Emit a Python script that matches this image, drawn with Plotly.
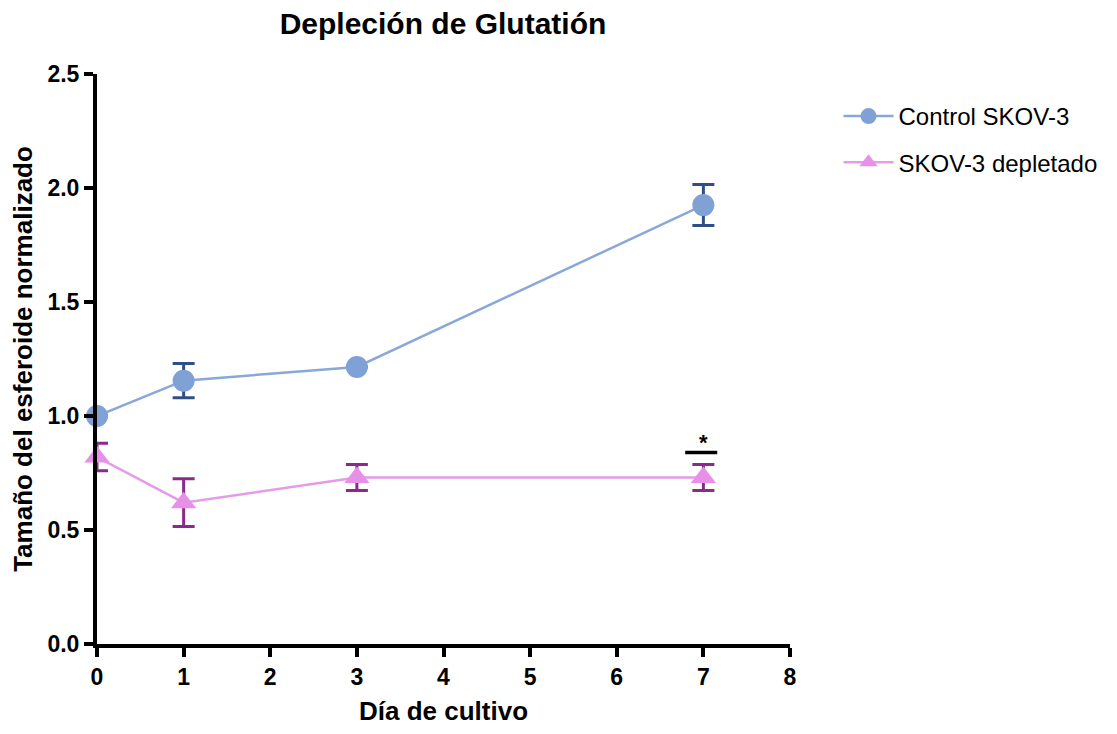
import plotly.graph_objects as go

days = [0, 1, 3, 7]
control_mean = [1.00, 1.155, 1.215, 1.925]
control_err = [0.0, 0.075, 0.0, 0.09]
depl_mean = [0.82, 0.62, 0.73, 0.73]
depl_err = [0.06, 0.105, 0.057, 0.057]
series_names = ["Control SKOV-3", "SKOV-3 depletado"]

x_ticks = list(range(0, 9))
y_ticks = [0.0, 0.5, 1.0, 1.5, 2.0, 2.5]

font = "Liberation Sans, Arial"

fig = go.Figure()
fig.add_trace(go.Scatter(
    x=days, y=control_mean, name=series_names[0], mode="lines+markers",
    legendgroup="a",
    line=dict(color="#89A8D8", width=2.5),
    marker=dict(symbol="circle", size=22, color="#7FA1D6"),
    error_y=dict(type="data", array=control_err, visible=True,
                 color="#2F4F86", thickness=3, width=11),
    cliponaxis=False,
))
fig.add_trace(go.Scatter(
    x=days, y=depl_mean, name=series_names[1], mode="lines+markers",
    legendgroup="b",
    line=dict(color="#E59BE8", width=2.5),
    marker=dict(symbol="triangle-up", size=22, color="#E790E8"),
    error_y=dict(type="data", array=depl_err, visible=True,
                 color="#8A2B8A", thickness=3, width=11),
    cliponaxis=False,
))

# significance marker
fig.add_shape(type="line", x0=6.79, x1=7.16, y0=0.84, y1=0.84,
              line=dict(color="black", width=3.5), xref="x", yref="y")
fig.add_annotation(x=7, y=0.885, text="<b>*</b>", showarrow=False,
                   font=dict(size=22, color="black", family=font), xref="x", yref="y")

fig.update_layout(
    width=1117, height=734,
    margin=dict(l=97, r=327, t=74, b=86),
    paper_bgcolor="white", plot_bgcolor="white",
    title=dict(text="<b>Depleción de Glutatión</b>", x=443/1117, xanchor="center",
               y=1 - 23/734, yanchor="middle",
               font=dict(size=30, color="black", family=font)),
    showlegend=True,
    legend=dict(x=1.07, y=0.965, xanchor="left", yanchor="top",
                font=dict(size=24, color="black", family=font),
                itemsizing="trace", itemwidth=50, tracegroupgap=12,
                bgcolor="rgba(0,0,0,0)"),
)
fig.update_xaxes(
    range=[0, 8], tickvals=x_ticks, ticktext=["<b>%d</b>" % t for t in x_ticks],
    showline=True, linecolor="black", linewidth=4, ticks="outside",
    tickwidth=4, ticklen=9, tickcolor="black", showgrid=False, zeroline=False,
    tickfont=dict(size=23, family=font, color="black"),
    title=dict(text="<b>Día de cultivo</b>", font=dict(size=26, family=font, color="black"),
               standoff=14),
)
fig.update_yaxes(
    range=[0, 2.5], tickvals=y_ticks, ticktext=["<b>%.1f</b>" % t for t in y_ticks],
    showline=True, linecolor="black", linewidth=4, ticks="outside",
    tickwidth=4, ticklen=9, tickcolor="black", showgrid=False, zeroline=False,
    tickfont=dict(size=23, family=font, color="black"),
    title=dict(text="<b>Tamaño del esferoide normalizado</b>",
               font=dict(size=26, family=font, color="black"), standoff=8),
)

fig.write_html("out.html")
